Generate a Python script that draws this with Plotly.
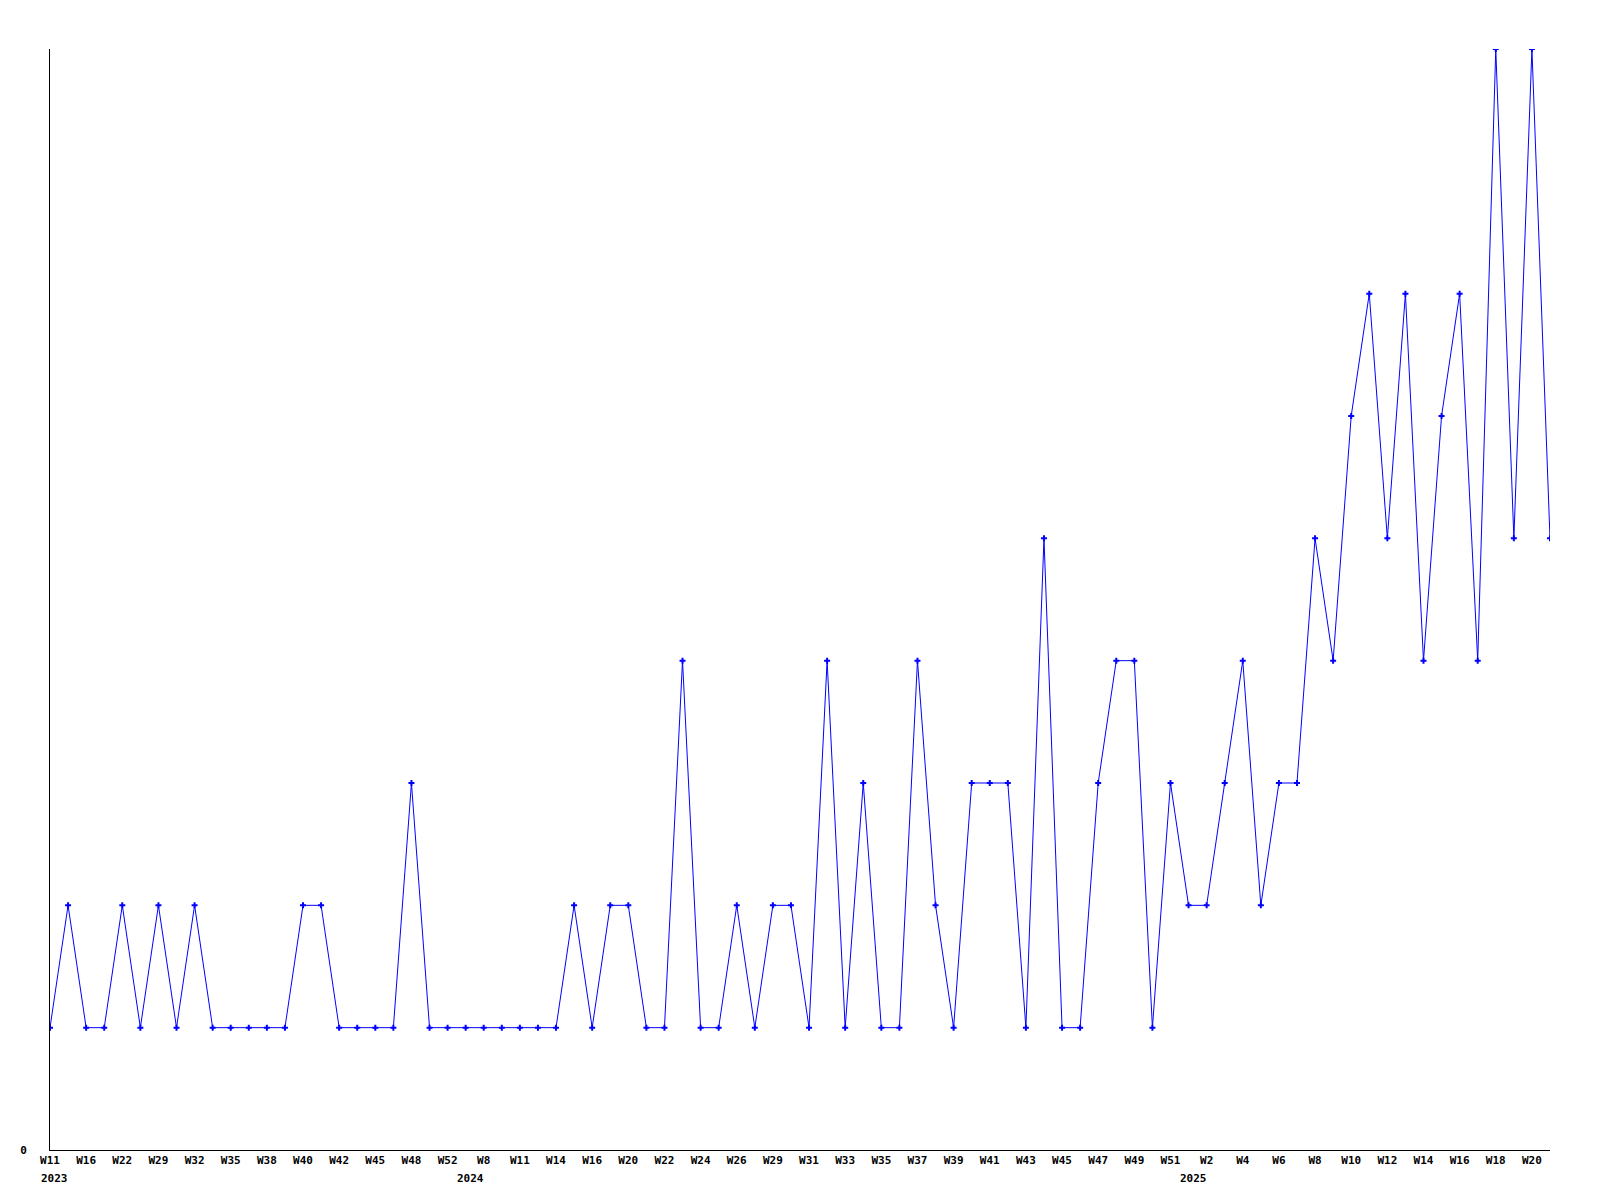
import plotly.graph_objects as go

# Week categories (one per data point)
weeks_2023 = ["W11", "W14", "W16", "W19", "W22", "W26", "W29", "W31", "W32", "W34",
              "W35", "W37", "W38", "W39", "W40", "W41", "W42", "W44", "W45", "W47",
              "W48", "W50", "W52"]
weeks_2024 = ["W1", "W8", "W10", "W11", "W13", "W14", "W15", "W16", "W18", "W20",
              "W21", "W22", "W23", "W24", "W25", "W26", "W28", "W29", "W30", "W31",
              "W32", "W33", "W34", "W35", "W36", "W37", "W38", "W39", "W40", "W41",
              "W42", "W43", "W44", "W45", "W46", "W47", "W48", "W49", "W50", "W51"]
weeks_2025 = ["W1", "W2", "W3", "W4", "W5", "W6", "W7", "W8", "W9", "W10",
              "W11", "W12", "W13", "W14", "W15", "W16", "W17", "W18", "W19", "W20",
              "W21"]

values = [1, 2, 1, 1, 2, 1, 2, 1, 2, 1,
          1, 1, 1, 1, 2, 2, 1, 1, 1, 1,
          3, 1, 1, 1, 1, 1, 1, 1, 1, 2,
          1, 2, 2, 1, 1, 4, 1, 1, 2, 1,
          2, 2, 1, 4, 1, 3, 1, 1, 4, 2,
          1, 3, 3, 3, 1, 5, 1, 1, 3, 4,
          4, 1, 3, 2, 2, 3, 4, 2, 3, 3,
          5, 4, 6, 7, 5, 7, 4, 6, 7, 4,
          9, 5, 9, 5]

years = ["2023", "2024", "2025"]

cats = ([f"2023-{w}" for w in weeks_2023] + [f"2024-{w}" for w in weeks_2024]
        + [f"2025-{w}" for w in weeks_2025])
week_names = weeks_2023 + weeks_2024 + weeks_2025

# every other point gets a week label
tickvals = [cats[i] for i in range(0, len(cats), 2)]
ticktext = [week_names[i] for i in range(0, len(cats), 2)]

# first point of each year
year_starts = [cats[0], f"2024-{weeks_2024[0]}", f"2025-{weeks_2025[0]}"]

font = dict(family="DejaVu Sans Mono", size=11, color="black")

fig = go.Figure()
fig.add_trace(go.Scatter(
    x=cats, y=values, mode="lines+markers",
    line=dict(color="#0000FF", width=1),
    marker=dict(symbol="cross", size=5, color="#0000FF"),
    showlegend=False,
))

for y, xs in zip(years, year_starts):
    fig.add_annotation(x=xs, y=0, xref="x", yref="paper", text=f"<b>{y}</b>",
                       showarrow=False, xanchor="left", yanchor="top",
                       xshift=-11, yshift=-20, font=font)

fig.update_layout(
    width=1600, height=1200,
    margin=dict(l=42, r=58, t=41, b=58),
    paper_bgcolor="white", plot_bgcolor="white",
    font=font,
    xaxis=dict(
        type="category", range=[0, len(cats) - 1],
        tickvals=tickvals, ticktext=[f"<b>{t}</b>" for t in ticktext],
        tickangle=0, showgrid=False, zeroline=False,
        showline=True, linecolor="black", linewidth=1,
        ticks="", tickfont=font,
    ),
    yaxis=dict(
        range=[0, 9], tickvals=[0], ticktext=["<b>0</b>"],
        showgrid=False, zeroline=False,
        showline=True, linecolor="black", linewidth=1,
        ticks="", ticklabelstandoff=20, tickfont=font,
    ),
)

fig.write_html("out.html")
